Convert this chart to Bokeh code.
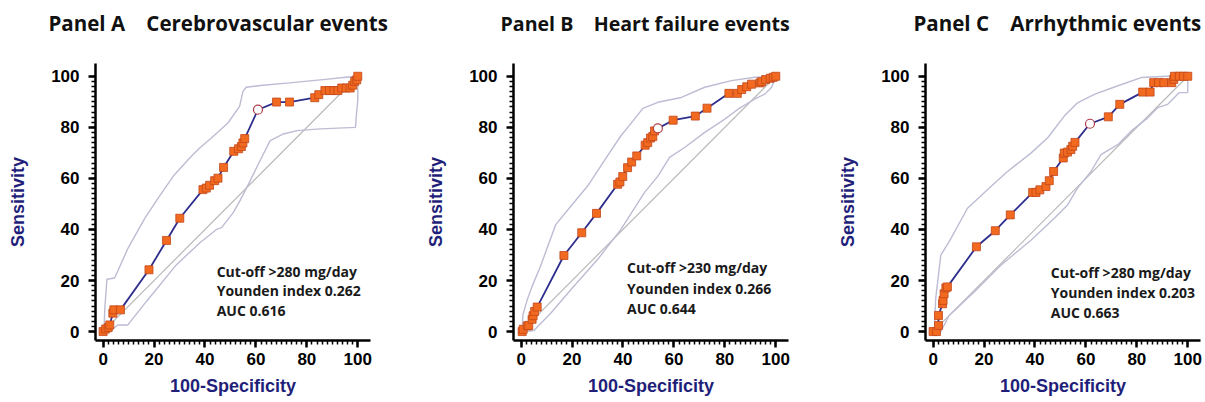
from bokeh.plotting import figure
from bokeh.layouts import row
from bokeh.models import Label, FixedTicker, Title
from bokeh.embed import file_html
from bokeh.resources import INLINE

# ---------------- data ----------------
TICKS = [0, 20, 40, 60, 80, 100]
X_LABEL = "100-Specificity"
Y_LABEL = "Sensitivity"

TITLES = ["Panel A\u00a0\u00a0\u00a0\u00a0Cerebrovascular events",
          "Panel B\u00a0\u00a0\u00a0\u00a0Heart failure events",
          "Panel C\u00a0\u00a0\u00a0\u00a0Arrhythmic events"]

NOTES = [["Cut-off >280 mg/day", "Younden index 0.262", "AUC 0.616"],
         ["Cut-off >230 mg/day", "Younden index 0.266", "AUC 0.644"],
         ["Cut-off >280 mg/day", "Younden index 0.203", "AUC 0.663"]]

# Panel A - ROC curve
A_roc_x = [0, 1.0, 2.0, 2.6, 3.8, 4.2, 6.8, 18.0, 24.9, 30.1, 39.2, 40.5, 41.8, 43.8, 45.1, 47.3,
           51.3, 53.2, 54.3, 54.9, 55.6, 60.8, 68.1, 73.2, 83.1, 84.7, 87.1, 88.9, 90.6, 92.2,
           93.7, 95.4, 97.0, 98.0, 98.8, 99.6, 100]
A_roc_y = [0, 1.0, 1.6, 2.6, 7.2, 8.5, 8.5, 24.2, 35.7, 44.4, 55.6, 56.2, 57.3, 59.1, 60.1, 64.3,
           70.6, 71.6, 72.5, 73.9, 75.6, 86.9, 89.9, 89.9, 91.6, 92.8, 94.4, 94.4, 94.4, 94.4,
           95.4, 95.4, 95.4, 96.5, 98.0, 98.6, 100]
A_opt = 21
A_up_x = [0.3, 0.7, 1.5, 4.5, 9.8, 16.4, 21.6, 27.5, 34.0, 37.9, 42.5, 49.0, 53.6, 54.9, 56.2,
          62.7, 73.2, 86.3, 95.4, 100]
A_up_y = [0, 9.8, 20.5, 21.0, 32.7, 44.4, 52.3, 60.8, 68.0, 71.9, 75.8, 81.7, 88.2, 94.1, 95.7,
          96.5, 97.4, 98.7, 99.6, 100]
A_lo_x = [2.5, 5.8, 9.7, 17.0, 28.8, 38.0, 44.5, 46.5, 51.1, 53.7, 56.4, 61.6, 65.6, 70.8, 76.1,
          85.3, 99.1, 99.5, 100, 100]
A_lo_y = [0, 2.6, 2.6, 11.8, 26.2, 34.8, 40.0, 40.7, 46.6, 51.2, 56.4, 66.9, 74.8, 77.4, 78.7,
          79.4, 80.0, 85.3, 90.6, 100]

# Panel B - ROC curve
B_roc_x = [0.4, 0.8, 2.4, 3.0, 4.3, 4.7, 5.3, 6.3, 16.8, 23.8, 29.6, 37.9, 38.8, 39.9, 41.8, 43.4,
           45.4, 48.7, 49.7, 50.8, 51.7, 52.4, 53.7, 59.7, 68.4, 73.0, 81.6, 84.9, 86.6, 88.6,
           90.5, 93.8, 94.5, 96.0, 97.8, 99.0, 100]
B_roc_y = [0, 0.9, 2.2, 2.4, 4.8, 6.2, 7.9, 9.6, 29.8, 38.7, 46.3, 57.7, 58.6, 60.7, 64.2, 66.4,
           68.8, 73.0, 74.0, 75.8, 76.4, 78.6, 79.6, 82.8, 84.4, 87.5, 93.3, 93.3, 94.8, 95.9,
           96.9, 97.4, 97.9, 98.7, 99.2, 99.6, 100]
B_opt = 22
B_up_x = [0.4, 0.7, 2.4, 4.3, 7.6, 13.6, 19.5, 26.1, 33.9, 39.2, 44.5, 47.8, 53.7, 62.9, 72.1,
          82.6, 91.8, 100]
B_up_y = [0, 6.6, 12.5, 17.7, 25.6, 41.9, 49.1, 57.0, 68.8, 76.7, 83.2, 87.4, 89.8, 91.7, 95.7,
          98.3, 99.6, 100]
B_lo_x = [1.0, 5.0, 11.6, 19.5, 30.0, 39.2, 48.4, 53.7, 58.3, 64.2, 72.1, 80.0, 85.3, 91.8, 95.8,
          98.4, 100]
B_lo_y = [0, 0.4, 7.2, 16.4, 28.2, 40.0, 54.4, 60.9, 68.2, 72.1, 78.0, 83.2, 87.2, 91.1, 93.1,
          95.7, 100]

# Panel C - ROC curve
C_roc_x = [0, 1.3, 2.1, 2.1, 3.7, 3.9, 4.3, 5.0, 5.6, 17.0, 24.4, 30.3, 39.1, 40.4, 41.9, 44.3,
           45.6, 47.3, 51.1, 51.5, 52.8, 54.1, 54.8, 55.7, 61.6, 68.8, 73.3, 82.3, 85.2, 86.6,
           88.5, 90.6, 93.7, 94.5, 94.8, 96.7, 98.3, 100]
C_roc_y = [0, 0, 2.4, 6.3, 10.9, 12.2, 14.8, 17.1, 17.5, 33.2, 39.5, 45.7, 54.5, 54.5, 55.5, 56.8,
           59.1, 62.7, 68.0, 69.9, 70.3, 71.3, 72.6, 74.1, 81.4, 84.1, 89.0, 93.8, 93.8, 97.5,
           97.5, 97.5, 97.5, 98.8, 100, 100, 100, 100]
C_opt = 24
C_up_x = [0.5, 1.0, 3.0, 6.3, 13.5, 22.7, 29.2, 38.4, 45.0, 51.5, 56.7, 63.3, 71.2, 81.7, 92.1, 100]
C_up_y = [0, 12.9, 29.9, 35.2, 48.3, 56.8, 62.7, 69.9, 75.9, 84.4, 89.6, 92.9, 95.8, 99.5, 100, 100]
C_lo_x = [1.0, 3.0, 6.3, 16.1, 26.6, 38.4, 47.6, 52.8, 56.7, 62.0, 65.9, 72.5, 77.7, 84.3, 88.2,
          92.1, 96.7, 100, 100]
C_lo_y = [0, 0, 6.3, 15.5, 26.0, 35.8, 44.4, 49.6, 56.2, 62.7, 69.3, 73.2, 78.5, 83.7, 87.7,
          89.0, 93.6, 93.6, 100]

DIAG = [0, 100]

# ---------------- styling / layout ----------------
NAVY = "#1f1f7a"
LINE = "#2e2e8e"
BAND = "#bcbcd4"
DIAG_C = "#b8b8b8"
SQ_FILL = "#f26a1f"
SQ_LINE = "#c2461a"

panels = [
    dict(roc=(A_roc_x, A_roc_y), opt=A_opt, up=(A_up_x, A_up_y), lo=(A_lo_x, A_lo_y),
         width=390, left=95, right=20, title_off=-47, title_size="20.5px",
         note_x=44.6, note_y=[23.7, 15.9, 8.1]),
    dict(roc=(B_roc_x, B_roc_y), opt=B_opt, up=(B_up_x, B_up_y), lo=(B_lo_x, B_lo_y),
         width=418, left=123, right=20, title_off=-13, title_size="19.6px",
         note_x=41.6, note_y=[25.0, 17.0, 9.0]),
    dict(roc=(C_roc_x, C_roc_y), opt=C_opt, up=(C_up_x, C_up_y), lo=(C_lo_x, C_lo_y),
         width=397, left=117, right=5, title_off=-12, title_size="20.5px",
         note_x=46.2, note_y=[23.3, 15.4, 7.5]),
]

figs = []
for i, cfg in enumerate(panels):
    p = figure(width=cfg["width"], height=402, x_range=(-3, 105), y_range=(-3.5, 105),
               output_backend="svg", toolbar_location=None,
               min_border_left=cfg["left"], min_border_right=cfg["right"],
               min_border_top=63, min_border_bottom=62)
    p.outline_line_color = None
    p.grid.visible = False
    p.background_fill_color = "white"
    p.border_fill_color = "white"

    # spacer between frame and title, then the title itself
    p.add_layout(Title(text=" ", text_font_size="2px", standoff=16.4), "above")
    p.add_layout(Title(text=TITLES[i], align="left", offset=cfg["title_off"], standoff=12,
                       text_font="Open Sans", text_font_size=cfg["title_size"],
                       text_font_style="bold", text_color="#111111"), "above")

    for ax in (p.xaxis[0], p.yaxis[0]):
        ax.ticker = FixedTicker(ticks=TICKS, minor_ticks=list(range(0, 101, 2)))
        ax.axis_line_width = 2.5
        ax.axis_line_color = "black"
        ax.major_tick_line_width = 2.5
        ax.major_tick_line_color = "black"
        ax.minor_tick_line_width = 1.5
        ax.minor_tick_line_color = "black"
        ax.major_tick_in = 0
        ax.major_tick_out = 7
        ax.minor_tick_in = 0
        ax.minor_tick_out = 4
        ax.major_label_text_font = "Liberation Sans"
        ax.major_label_text_font_style = "bold"
        ax.major_label_text_font_size = "17px"
        ax.major_label_text_color = "black"
        ax.axis_label_text_font = "Liberation Sans"
        ax.axis_label_text_font_style = "bold"
        ax.axis_label_text_font_size = "18px"
        ax.axis_label_text_color = NAVY
    p.xaxis.axis_label = X_LABEL
    p.yaxis.axis_label = Y_LABEL
    p.xaxis.major_label_standoff = 5
    p.yaxis.major_label_standoff = 9
    p.xaxis.axis_label_standoff = 8
    p.yaxis.axis_label_standoff = 20

    ux, uy = cfg["up"]
    lx, ly = cfg["lo"]
    p.line(DIAG, DIAG, line_color=DIAG_C, line_width=1.2)
    p.line(ux, uy, line_color=BAND, line_width=1.4)
    p.line(lx, ly, line_color=BAND, line_width=1.4)

    rx, ry = cfg["roc"]
    k = cfg["opt"]
    p.line(rx, ry, line_color=LINE, line_width=1.8)
    sx = [v for j, v in enumerate(rx) if j != k]
    sy = [v for j, v in enumerate(ry) if j != k]
    p.scatter(sx, sy, marker="square", size=8, fill_color=SQ_FILL, line_color=SQ_LINE,
              line_width=0.8)
    p.scatter([rx[k]], [ry[k]], marker="circle", size=9, fill_color="white",
              line_color="#b0404a", line_width=1.2)

    for txt, yy in zip(NOTES[i], cfg["note_y"]):
        p.add_layout(Label(x=cfg["note_x"], y=yy, text=txt, text_baseline="middle",
                           text_font="Open Sans", text_font_size="14px",
                           text_font_style="bold", text_color="#1a1a1a"))
    figs.append(p)

layout = row(*figs, spacing=0)
open("out.html", "w").write(file_html(layout, INLINE))
